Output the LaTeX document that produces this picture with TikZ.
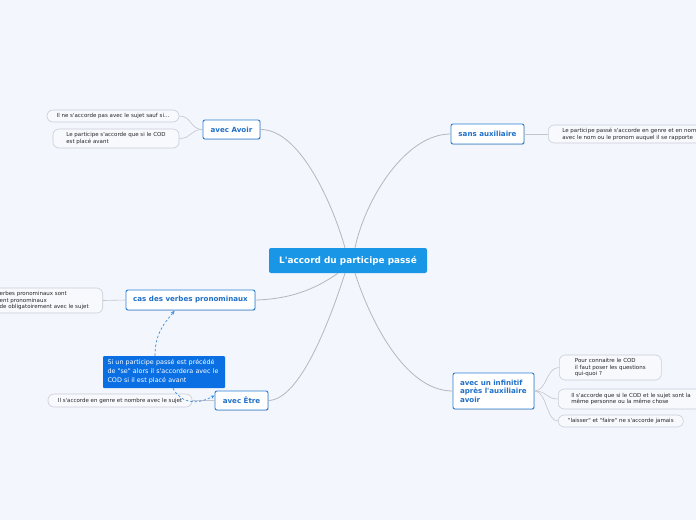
\documentclass[tikz,border=0pt]{standalone}
\usepackage{fontspec}
\newfontfamily\df{DejaVu Sans}
\usetikzlibrary{shadows,arrows.meta}
\definecolor{bgc}{HTML}{F3F6FC}
\definecolor{centralblue}{HTML}{1A96E6}
\definecolor{branchborder}{HTML}{2B7FD6}
\definecolor{branchtext}{HTML}{1F6FC8}
\definecolor{noteblue}{HTML}{0A6FE3}
\definecolor{leafborder}{HTML}{C9CED8}
\definecolor{leaffill}{HTML}{F7F9FD}
\definecolor{linegray}{HTML}{B3B7BF}
\definecolor{dashblue}{HTML}{3C8FE0}
\tikzset{
  mainbox/.style={fill=centralblue, text=white, font=\df\bfseries\fontsize{8.9}{10}\selectfont, rounded corners=2pt, minimum width=158pt, minimum height=25pt, inner sep=0pt},
  branch/.style={draw=branchborder, line width=0.9pt, fill=white, text=branchtext, font=\df\bfseries\fontsize{7.1}{8.6}\selectfont, rounded corners=2pt, inner sep=0pt, drop shadow={shadow xshift=0.6pt, shadow yshift=-0.9pt, opacity=0.25}},
  leaf/.style={draw=leafborder, line width=0.6pt, fill=leaffill, rounded corners=6pt, font=\df\fontsize{5.5}{6.9}\selectfont, align=left, inner sep=0pt, text=black!85},
  notebox/.style={fill=noteblue, text=white, font=\df\fontsize{6.4}{9}\selectfont, align=left, rounded corners=1pt, inner sep=0pt, minimum width=122pt, minimum height=32pt},
  conn/.style={draw=linegray, line width=0.8pt},
  sconn/.style={draw=linegray!80, line width=0.6pt},
  dashconn/.style={draw=dashblue, line width=0.7pt, dash pattern=on 2.5pt off 2pt, -{Stealth[length=4pt,width=3.5pt]}}
}
\begin{document}
\begin{tikzpicture}[x=1pt,y=-1pt]
\fill[bgc] (0,0) rectangle (696,520);
\useasboundingbox (0,0) rectangle (696,520);

% central
\node[mainbox] (c) at (348,260.5) {L'accord du participe passé};

% branches
\node[branch, minimum width=57pt, minimum height=19pt] (av) at (231.5,129.5) {avec Avoir};
\node[branch, minimum width=73pt, minimum height=20pt] (sa) at (487.5,134) {sans auxiliaire};
\node[branch, minimum width=129pt, minimum height=20pt] (cv) at (190.5,300) {cas des verbes pronominaux};
\node[branch, minimum width=53pt, minimum height=19pt] (ae) at (241.5,400.5) {avec Être};
\node[branch, minimum width=81pt, minimum height=36pt, text width=67pt, align=left] (ai) at (493.5,391) {avec un infinitif\\après l'auxiliaire\\avoir};

% note
\node[notebox, text width=113pt] (nt) at (164,372) {Si un participe passé est précédé\\de "se" alors il s'accordera avec le\\COD si il est placé avant};

% leaves
\node[leaf, minimum height=12pt, minimum width=132pt] (l1) at (113,116) {Il ne s'accorde pas avec le sujet sauf si...};
\node[leaf, minimum height=19pt, minimum width=126pt] (l2) at (116,138.5) {Le participe s'accorde que si le COD\\est placé avant};
\node[leaf, minimum height=18pt, inner xsep=14pt, anchor=west] (l3) at (548,134) {Le participe passé s'accorde en genre et en nombre\\avec le nom ou le pronom auquel il se rapporte};
\node[leaf, minimum height=25pt, minimum width=110pt, anchor=east] (l4) at (103,300.5) {};
\node[font=\df\fontsize{5.5}{6.9}\selectfont, align=left, anchor=west, inner sep=0pt, text=black!85] (l4t) at (-0.5,300.5) {erbes pronominaux sont\\ent pronominaux\\de obligatoirement avec le sujet};
\node[leaf, minimum height=13pt, minimum width=144pt] (l5) at (120,400.5) {Il s'accorde en genre et nombre avec le sujet};
\node[leaf, minimum height=25pt, minimum width=102pt, anchor=west] (l6) at (559,367.5) {Pour connaitre le COD\\il faut poser les questions\\qui-quoi ?};
\node[leaf, minimum height=20pt, inner xsep=13pt, anchor=west] (l7) at (558,399) {Il s'accorde que si le COD et le sujet sont la\\même personne ou la même chose};
\node[leaf, minimum height=12pt, minimum width=125pt, anchor=west] (l8) at (558,421) {"laisser" et "faire" ne s'accorde jamais};

% main connectors
\path[conn] (av.east) .. controls (300,129) and (333,205) .. ([xshift=-3pt]c.north);
\path[conn] (sa.west) .. controls (405,134) and (365,200) .. ([xshift=7pt]c.north);
\path[conn] (cv.east) .. controls (300,299) and (325,282) .. ([xshift=-10pt]c.south);
\path[conn] (ae.east) .. controls (300,400) and (330,320) .. ([xshift=-3pt]c.south);
\path[conn] (ai.west) .. controls (405,391) and (370,320) .. ([xshift=7pt]c.south);

% leaf connectors
\path[sconn] (av.west) .. controls (190,129.5) and (192,116) .. (l1.east);
\path[sconn] (av.west) .. controls (190,129.5) and (192,138.5) .. (l2.east);
\path[sconn] (sa.east) -- (l3.west);
\path[sconn] (cv.west) -- (l4.east);
\path[sconn] (ae.west) -- (l5.east);
\path[sconn] (ai.east) .. controls (547,391) and (546,367.5) .. (l6.west);
\path[sconn] (ai.east) .. controls (547,391) and (546,399) .. (l7.west);
\path[sconn] (ai.east) .. controls (547,391) and (546,421) .. (l8.west);

% dashed relations
\path[dashconn] ([xshift=-9pt]nt.north) .. controls (155,330) and (168,320) .. ([xshift=-16pt]cv.south);
\path[dashconn] ([xshift=9pt]nt.south) .. controls (180,402) and (195,406) .. ([yshift=5pt]ae.west);
\end{tikzpicture}
\end{document}
